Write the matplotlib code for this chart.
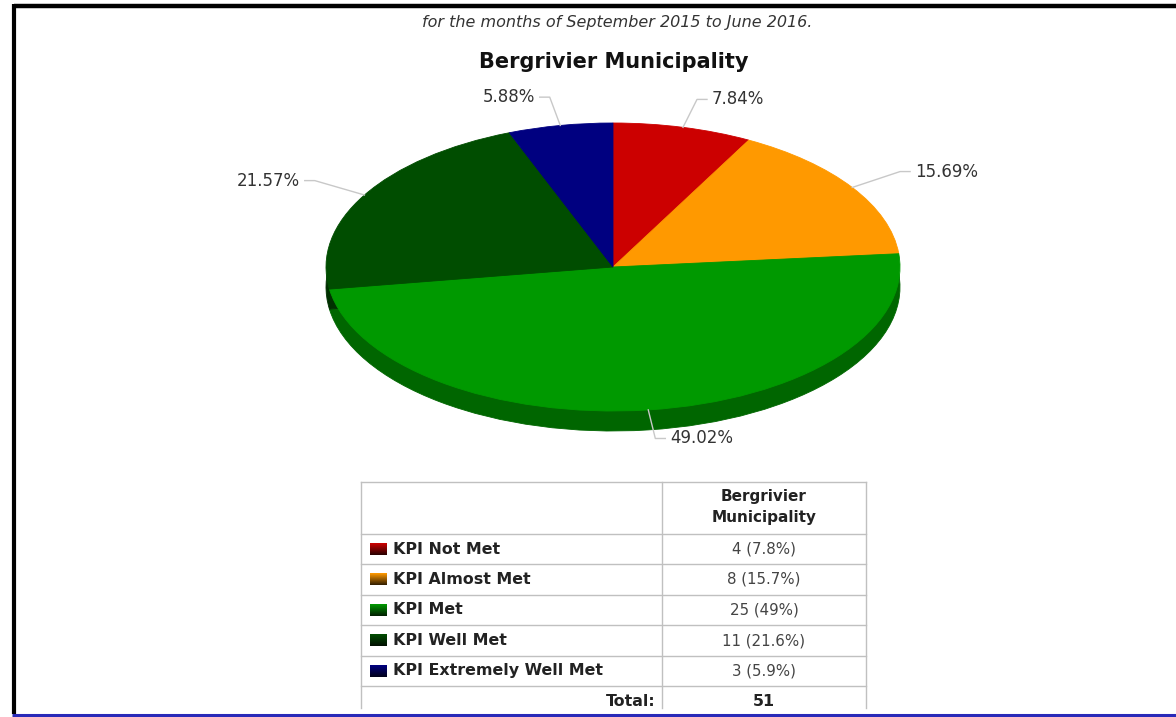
import numpy as np
import matplotlib
matplotlib.use("Agg")
import matplotlib.pyplot as plt
from matplotlib.colors import to_rgb

plt.rcParams["font.family"] = ["DejaVu Sans"]

# ---------------- data ----------------
categories = ["KPI Not Met", "KPI Almost Met", "KPI Met", "KPI Well Met", "KPI Extremely Well Met"]
counts = [4, 8, 25, 11, 3]
pie_labels = ["7.84%", "15.69%", "49.02%", "21.57%", "5.88%"]
table_values = ["4 (7.8%)", "8 (15.7%)", "25 (49%)", "11 (21.6%)", "3 (5.9%)"]
total_label = "51"
colors = ["#cc0000", "#ff9900", "#009900", "#004d00", "#000080"]
side_colors = ["#8a0000", "#b36b00", "#006600", "#003000", "#00005a"]
title = "Bergrivier Municipality"
subtitle = "for the months of September 2015 to June 2016."
column_header = "Bergrivier\nMunicipality"

W, H = 1176, 717
fig = plt.figure(figsize=(W / 100, H / 100), dpi=100)
fig.patch.set_facecolor("white")

# pie geometry (pixels)
cx, cy, rx, ry, depth = 613, 267, 287, 144, 20

axp = fig.add_axes([0, 0, 1, 1])
axp.set_facecolor("none")
d = depth / ry
axp.pie(counts, colors=side_colors, startangle=90, counterclock=False,
        center=(0, -d), radius=1, wedgeprops=dict(linewidth=0.6))
for w, c in zip(axp.patches, side_colors):
    w.set_edgecolor(c)
wedges, _ = axp.pie(counts, colors=colors, startangle=90, counterclock=False,
                    center=(0, 0), radius=1, wedgeprops=dict(linewidth=0.6))
for w, c in zip(wedges, colors):
    w.set_edgecolor(c)
axp.set_aspect("auto")
axp.set_xlim(-cx / rx, (W - cx) / rx)
axp.set_ylim((cy - H) / ry, cy / ry)
axp.axis("off")

tot = sum(counts)
cum = 0
for val, lab in zip(counts, pie_labels):
    mid = 90 - (cum + val / 2) / tot * 360
    cum += val
    a = np.deg2rad(mid)
    x0, y0 = np.cos(a), np.sin(a)
    x1, y1 = 1.2 * np.cos(a), 1.2 * np.sin(a)
    sgn = 1 if x1 >= 0 else -1
    x2 = x1 + sgn * 10 / rx
    axp.plot([x0, x1, x2], [y0, y1, y1], color="#c8c8c8", lw=1.0, zorder=3)
    axp.text(x2 + sgn * 5 / rx, y1, lab, ha="left" if sgn > 0 else "right",
             va="center", fontsize=12, color="#333333")

ax = fig.add_axes([0, 0, 1, 1])
ax.set_facecolor("none")
ax.set_xlim(0, W)
ax.set_ylim(H, 0)
ax.axis("off")

ax.plot([13.5, W], [5.5, 5.5], color="black", lw=3.2, solid_capstyle="butt")
ax.plot([13.5, 13.5], [4, 714], color="black", lw=3.0, solid_capstyle="butt")
ax.plot([12, W], [714.5, 714.5], color="#2a2ab8", lw=2.2, solid_capstyle="butt")

ax.text(617, 22, subtitle, ha="center", va="center", fontsize=11.5,
        style="italic", color="#333333")
ax.text(614, 62, title, ha="center", va="center", fontsize=15,
        fontweight="bold", color="#111111")

tl, tdiv, tr = 361, 662, 866
row_lines = [482, 534, 564, 595, 625, 656, 686]
bottom = 708
gc = "#c0c0c0"
for y in row_lines:
    ax.plot([tl, tr], [y, y], color=gc, lw=1.0)
for x in [tl, tdiv, tr]:
    ax.plot([x, x], [row_lines[0], bottom], color=gc, lw=1.0)

ax.text(764, 507, column_header, ha="center", va="center", fontsize=11,
        fontweight="bold", color="#222222", linespacing=1.5)

for i, (cat, val, col) in enumerate(zip(categories, table_values, colors)):
    yc = (row_lines[i + 1] + row_lines[i + 2]) / 2
    base = np.array(to_rgb(col))
    grad = np.linspace(0, 1, 20)[:, None]
    img = (base[None, :] * (1 - 0.8 * grad))[:, None, :]
    ax.imshow(img, extent=[370, 387, yc + 6, yc - 6], aspect="auto",
              interpolation="bilinear", zorder=3)
    ax.text(393, yc, cat, ha="left", va="center", fontsize=11.4,
            fontweight="bold", color="#222222")
    ax.text(764, yc, val, ha="center", va="center", fontsize=10.8,
            color="#444444")
ax.set_xlim(0, W)
ax.set_ylim(H, 0)

ax.text(655, 701, "Total:", ha="right", va="center", fontsize=11.4,
        fontweight="bold", color="#222222")
ax.text(764, 701, total_label, ha="center", va="center", fontsize=11.4,
        fontweight="bold", color="#222222")

fig.savefig("out.png", dpi=100, facecolor="white")
